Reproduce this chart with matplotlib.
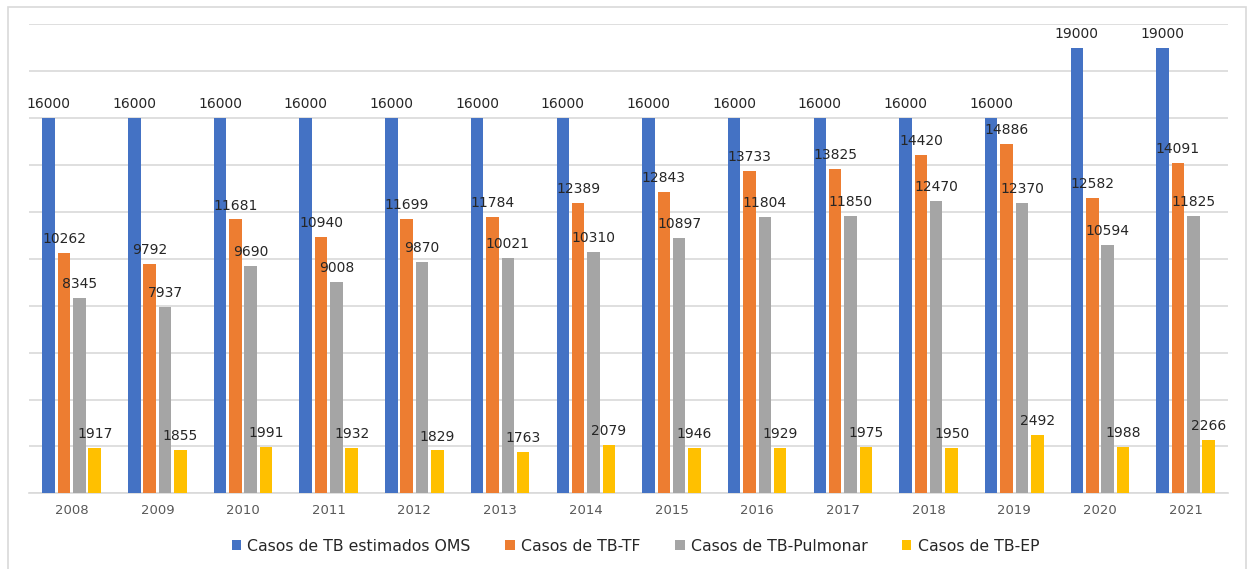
import numpy as np
import matplotlib.pyplot as plt
from matplotlib.patches import Rectangle

# Casos de tuberculosis por año
years = ["2008", "2009", "2010", "2011", "2012", "2013", "2014",
         "2015", "2016", "2017", "2018", "2019", "2020", "2021"]
oms = [16000, 16000, 16000, 16000, 16000, 16000, 16000,
       16000, 16000, 16000, 16000, 16000, 19000, 19000]
tb_tf = [10262, 9792, 11681, 10940, 11699, 11784, 12389,
         12843, 13733, 13825, 14420, 14886, 12582, 14091]
tb_pulmonar = [8345, 7937, 9690, 9008, 9870, 10021, 10310,
               10897, 11804, 11850, 12470, 12370, 10594, 11825]
tb_ep = [1917, 1855, 1991, 1932, 1829, 1763, 2079,
         1946, 1929, 1975, 1950, 2492, 1988, 2266]

series = [
    ("Casos de TB estimados OMS", oms, "#4472C4"),
    ("Casos de TB-TF", tb_tf, "#ED7D31"),
    ("Casos de TB-Pulmonar", tb_pulmonar, "#A5A5A5"),
    ("Casos de TB-EP", tb_ep, "#FFC000"),
]

fig = plt.figure(figsize=(12.51, 5.69), dpi=100)
ax = fig.add_axes([0.023, 0.133, 0.959, 0.824])

x = np.arange(len(years))
width = 0.146
step = 0.179
for i, (name, vals, color) in enumerate(series):
    pos = x + (i - 1.5) * step
    bars = ax.bar(pos, vals, width, color=color, label=name, zorder=3)
    for b, v in zip(bars, vals):
        ax.annotate(str(v), (b.get_x() + b.get_width() / 2, v),
                    xytext=(0, 5), textcoords="offset points",
                    ha="center", va="bottom", fontsize=10, color="#262626",
                    zorder=4)

ax.set_xlim(-0.5, len(years) - 0.5)
ax.set_ylim(0, 20000)
ax.set_yticks(np.arange(0, 20001, 2000))
ax.yaxis.grid(True, color="#D9D9D9", linewidth=1.2, zorder=0)
ax.set_yticklabels([])
ax.tick_params(axis="y", length=0)
ax.set_xticks(x)
ax.set_xticklabels(years, fontsize=9.5, color="#595959")
ax.tick_params(axis="x", length=0, pad=8)
for s in ["top", "right", "left"]:
    ax.spines[s].set_visible(False)
ax.spines["bottom"].set_color("#D9D9D9")
ax.spines["bottom"].set_linewidth(1.2)

leg = fig.legend(loc="center", bbox_to_anchor=(0.508, 0.04), ncol=4, frameon=False,
                 fontsize=11.3, handlelength=0.6, handleheight=0.6,
                 handletextpad=0.4, columnspacing=2.2)
for t in leg.get_texts():
    t.set_color("#262626")

# marco exterior del gráfico
fig.patches.append(Rectangle((8 / 1251, -0.01), 1238 / 1251, 1 - 7 / 569 + 0.01,
                             transform=fig.transFigure, fill=False,
                             edgecolor="#D9D9D9", linewidth=1.2))

fig.savefig("out.png", dpi=100, facecolor="white")
